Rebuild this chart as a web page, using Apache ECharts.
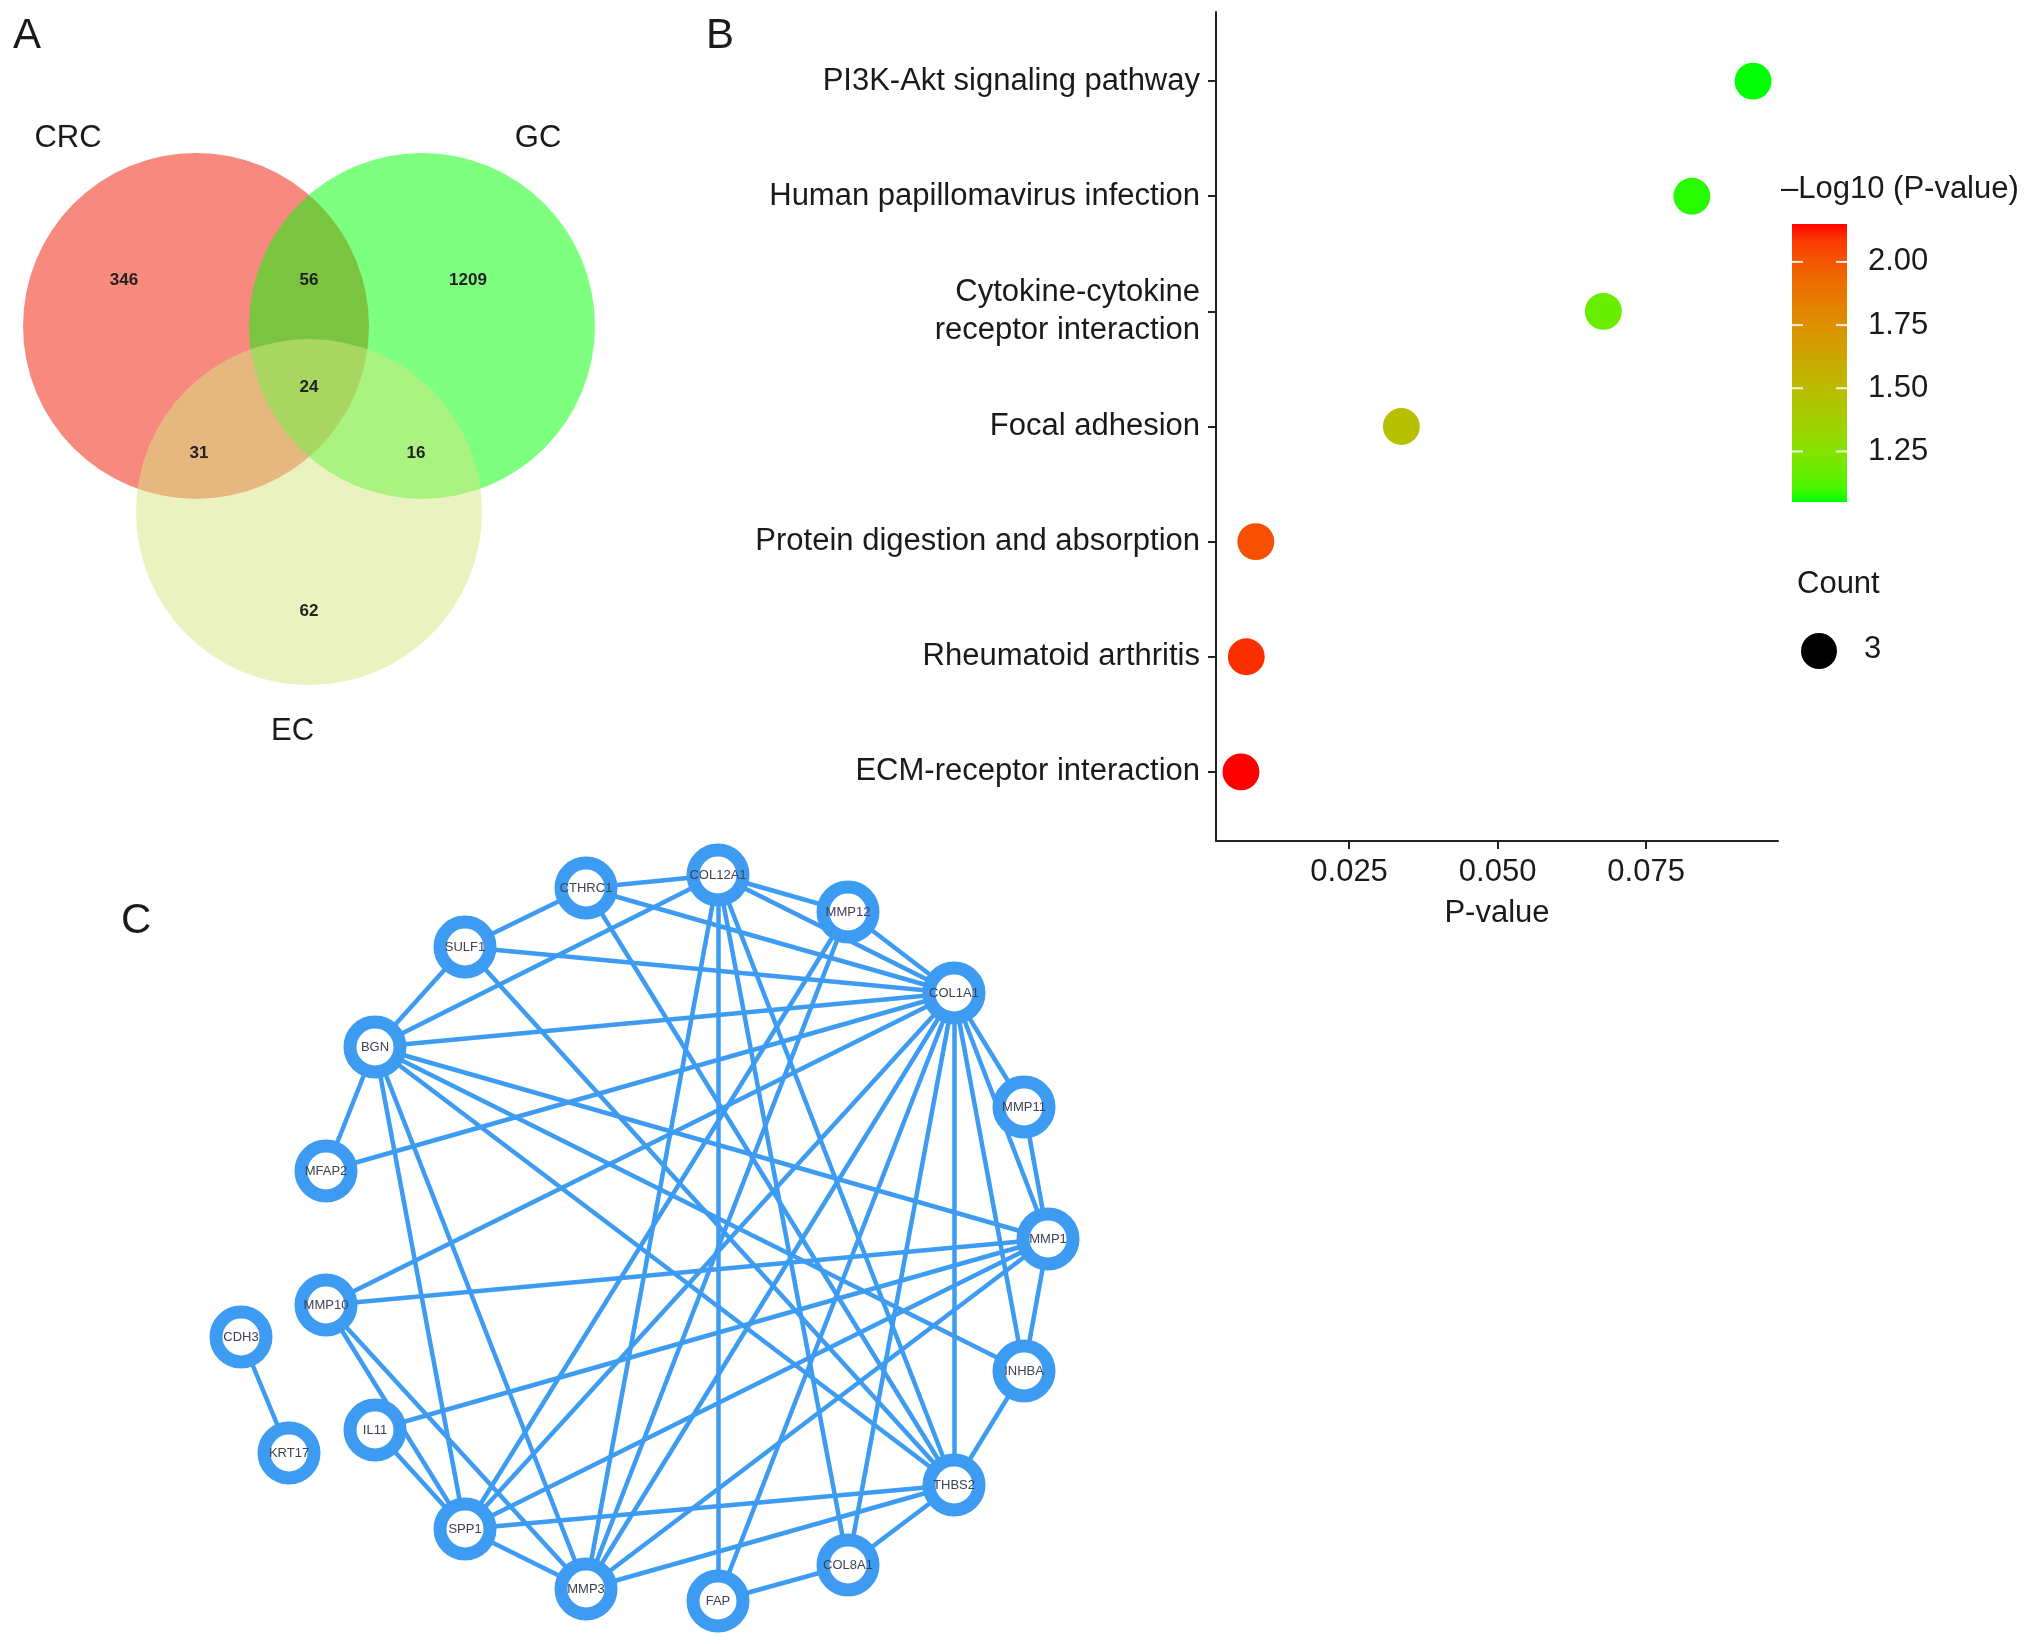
<!DOCTYPE html>
<html>
<head>
<meta charset="utf-8">
<script src="https://cdn.jsdelivr.net/npm/echarts@6/dist/echarts.min.js"></script>
<style>
html,body{margin:0;padding:0;background:#fff;}
#chart{width:2032px;height:1644px;}
</style>
</head>
<body>
<div id="chart"></div>
<script>
// ---------------- Panel A: Venn ----------------
const vennSets = ['CRC', 'GC', 'EC'];
const vennCenterX = [-0.653, 0.653, 0];
const vennCenterY = [0.538, 0.538, -0.538];
const vennRadius = [1, 1, 1];
const vennLabelX = [-1.393, 1.324, -0.095];
const vennLabelY = [1.62, 1.62, -1.809];
const vennRegionCounts = [346, 56, 1209, 24, 31, 16, 62];
const vennRegionX = [-1.069, 0, 0.919, 0, -0.636, 0.618, 0];
const vennRegionY = [0.803, 0.803, 0.803, 0.182, -0.199, -0.199, -1.113];

// ---------------- Panel B: KEGG dot plot ----------------
const categories = ['PI3K-Akt signaling pathway', 'Human papillomavirus infection',
  'Cytokine-cytokine\nreceptor interaction', 'Focal adhesion',
  'Protein digestion and absorption', 'Rheumatoid arthritis', 'ECM-receptor interaction'];
const pValues = [0.0930, 0.0827, 0.0678, 0.0338, 0.0093, 0.0077, 0.0068];
const negLog10P = [1.05, 1.08, 1.17, 1.47, 2.02, 2.10, 2.15];
const geneCount = [3, 3, 3, 3, 3, 3, 3];
const xTicks = [0.025, 0.050, 0.075];
const colorbarTicks = [1.25, 1.50, 1.75, 2.00];
const colorbarRange = [1.05, 2.15];

// ---------------- Panel C: PPI network ----------------
const geneNames = ['CTHRC1','COL12A1','MMP12','SULF1','COL1A1','BGN','MMP11','MFAP2','MMP1','MMP10','CDH3','INHBA','IL11','KRT17','THBS2','SPP1','COL8A1','MMP3','FAP'];
const geneX = [345, 477, 607, 224, 713, 134, 783, 85, 807, 85, 0, 783, 134, 48, 713, 224, 607, 345, 477];
const geneY = [13, 0, 37, 72, 118, 172, 232, 296, 364, 430, 462, 496, 555, 578, 610, 654, 690, 714, 726];
const interactions = [
  ['CTHRC1','COL12A1'],['CTHRC1','SULF1'],['CTHRC1','COL1A1'],['CTHRC1','THBS2'],
  ['COL12A1','MMP12'],['COL12A1','COL1A1'],['COL12A1','BGN'],['COL12A1','MMP3'],['COL12A1','FAP'],['COL12A1','COL8A1'],['COL12A1','THBS2'],
  ['MMP12','COL1A1'],['MMP12','SPP1'],['MMP12','MMP3'],
  ['SULF1','BGN'],['SULF1','COL1A1'],['SULF1','THBS2'],
  ['BGN','COL1A1'],['BGN','MFAP2'],['BGN','MMP1'],['BGN','INHBA'],['BGN','THBS2'],['BGN','SPP1'],['BGN','MMP3'],
  ['MFAP2','COL1A1'],
  ['MMP10','COL1A1'],['MMP10','MMP1'],['MMP10','SPP1'],['MMP10','MMP3'],
  ['IL11','MMP1'],['IL11','SPP1'],
  ['CDH3','KRT17'],
  ['COL1A1','MMP11'],['COL1A1','MMP1'],['COL1A1','INHBA'],['COL1A1','THBS2'],['COL1A1','COL8A1'],['COL1A1','FAP'],['COL1A1','MMP3'],['COL1A1','SPP1'],
  ['MMP11','MMP1'],
  ['MMP1','INHBA'],['MMP1','SPP1'],['MMP1','MMP3'],
  ['INHBA','THBS2'],
  ['THBS2','SPP1'],['THBS2','MMP3'],['THBS2','COL8A1'],
  ['SPP1','MMP3'],
  ['FAP','COL8A1']
];

// ---------- colour helpers (ggplot-like Lab interpolation green -> red) ----------
function s2l(c){c/=255;return c<=0.04045?c/12.92:Math.pow((c+0.055)/1.055,2.4);}
function l2s(c){c=c<=0.0031308?12.92*c:1.055*Math.pow(c,1/2.4)-0.055;return Math.round(Math.max(0,Math.min(1,c))*255);}
function rgb2lab(rgb){
  const r=s2l(rgb[0]),g=s2l(rgb[1]),b=s2l(rgb[2]);
  let X=(0.4124*r+0.3576*g+0.1805*b)/0.95047,Y=0.2126*r+0.7152*g+0.0722*b,Z=(0.0193*r+0.1192*g+0.9505*b)/1.08883;
  const f=t=>t>0.008856?Math.cbrt(t):7.787*t+16/116;
  const fx=f(X),fy=f(Y),fz=f(Z);
  return [116*fy-16,500*(fx-fy),200*(fy-fz)];
}
function lab2rgb(lab){
  const fy=(lab[0]+16)/116,fx=fy+lab[1]/500,fz=fy-lab[2]/200;
  const fi=t=>{const t3=t*t*t;return t3>0.008856?t3:(t-16/116)/7.787;};
  const X=fi(fx)*0.95047,Y=fi(fy),Z=fi(fz)*1.08883;
  const r=3.2406*X-1.5372*Y-0.4986*Z,g=-0.9689*X+1.8758*Y+0.0415*Z,b=0.0557*X-0.2040*Y+1.0570*Z;
  return 'rgb('+l2s(r)+','+l2s(g)+','+l2s(b)+')';
}
const LOW=rgb2lab([0,255,0]), HIGH=rgb2lab([255,0,0]);
function gradColor(t){return lab2rgb([0,1,2].map(i=>LOW[i]+(HIGH[i]-LOW[i])*t));}
const rampColors=[];for(let i=0;i<=20;i++)rampColors.push(gradColor(i/20));

const FONT='"Liberation Sans", Arial, Helvetica, sans-serif';
const TXT='#1a1a1a';
const BLUE='#3d9cf2';
const vennFill=['rgba(240,20,0,0.5)','rgba(0,255,0,0.5)','rgba(213,231,129,0.5)'];

const geneIndex={};geneNames.forEach((g,i)=>geneIndex[g]=i);

const chart=echarts.init(document.getElementById('chart'),null,{renderer:'canvas'});

const option={
  animation:false,
  backgroundColor:'#fff',
  textStyle:{fontFamily:FONT},
  grid:[
    {left:0,top:0,width:618,height:838},                 // 0 venn
    {left:1216,top:12,width:562,height:829},              // 1 dot plot
    {left:1792,top:224,width:55,height:278},              // 2 colorbar
    {left:241,top:875,width:807,height:726}               // 3 network
  ],
  xAxis:[
    {gridIndex:0,type:'value',min:-1.786,max:1.786,show:false},
    {gridIndex:1,type:'value',min:0.0026,max:0.0972,
      axisLine:{show:true,onZero:false,lineStyle:{color:'#222',width:2}},
      axisTick:{show:true,length:8,lineStyle:{color:'#222',width:2},customValues:xTicks},
      axisLabel:{customValues:xTicks,formatter:v=>v.toFixed(3),fontSize:31,color:TXT,fontFamily:FONT,margin:16},
      splitLine:{show:false},
      name:'P-value',nameLocation:'middle',nameGap:57,
      nameTextStyle:{fontSize:31,color:TXT,fontFamily:FONT}},
    {gridIndex:2,type:'value',min:0,max:1,show:false},
    {gridIndex:3,type:'value',min:0,max:807,show:false}
  ],
  yAxis:[
    {gridIndex:0,type:'value',min:-2.422,max:2.422,show:false},
    {gridIndex:1,type:'value',min:-0.6,max:6.6,
      axisLine:{show:true,onZero:false,lineStyle:{color:'#222',width:2}},
      axisTick:{show:true,length:8,lineStyle:{color:'#222',width:2},customValues:[0,1,2,3,4,5,6]},
      axisLabel:{customValues:[0,1,2,3,4,5,6],formatter:v=>categories[categories.length-1-Math.round(v)],
        fontSize:31,color:TXT,fontFamily:FONT,margin:16,lineHeight:38,align:'right'},
      splitLine:{show:false}},
    {gridIndex:2,type:'value',min:colorbarRange[0],max:colorbarRange[1],position:'right',
      axisLine:{show:false},axisTick:{show:false},
      axisLabel:{customValues:colorbarTicks,formatter:v=>v.toFixed(2),fontSize:31,color:TXT,fontFamily:FONT,margin:21},
      splitLine:{show:false}},
    {gridIndex:3,type:'value',min:0,max:726,inverse:true,show:false}
  ],
  visualMap:[{
    type:'continuous',show:false,seriesIndex:2,dimension:2,
    min:colorbarRange[0],max:colorbarRange[1],inRange:{color:rampColors}
  }],
  series:[
    { // 0 venn circles
      type:'custom',xAxisIndex:0,yAxisIndex:0,silent:true,
      data:vennSets.map((s,i)=>[vennCenterX[i],vennCenterY[i],vennRadius[i]]),
      renderItem:(params,api)=>{
        const c=api.coord([api.value(0),api.value(1)]);
        const r=api.size([api.value(2),api.value(2)])[0];
        return {type:'circle',shape:{cx:c[0],cy:c[1],r:r},style:{fill:vennFill[params.dataIndex]}};
      }
    },
    { // 1 venn labels + counts
      type:'scatter',xAxisIndex:0,yAxisIndex:0,symbolSize:1,silent:true,z:5,
      itemStyle:{opacity:0},
      data:vennSets.map((s,i)=>({value:[vennLabelX[i],vennLabelY[i]],label:{formatter:s,fontSize:31,fontWeight:'normal',color:TXT}}))
        .concat(vennRegionCounts.map((c,i)=>({value:[vennRegionX[i],vennRegionY[i]],label:{formatter:String(c),fontSize:17,fontWeight:'bold',color:'#222'}}))),
      label:{show:true,position:'inside',fontFamily:FONT,opacity:1}
    },
    { // 2 dot plot
      type:'scatter',xAxisIndex:1,yAxisIndex:1,symbol:'circle',
      symbolSize:(v)=>12.3*v[3],
      itemStyle:{opacity:1},
      data:categories.map((c,i)=>[pValues[i],categories.length-1-i,negLog10P[i],geneCount[i]]),
      z:3
    },
    { // 3 colorbar with white tick marks
      type:'custom',xAxisIndex:2,yAxisIndex:2,silent:true,z:1,
      data:[[0,colorbarRange[0],1,colorbarRange[1]]],
      renderItem:(params,api)=>{
        const p0=api.coord([api.value(0),api.value(3)]);
        const p1=api.coord([api.value(2),api.value(1)]);
        const stops=rampColors.map((c,i)=>({offset:1-i/(rampColors.length-1),color:c})).reverse();
        const children=[{type:'rect',shape:{x:p0[0],y:p0[1],width:p1[0]-p0[0],height:p1[1]-p0[1]},
          style:{fill:new echarts.graphic.LinearGradient(0,0,0,1,stops)}}];
        colorbarTicks.forEach(t=>{
          const y=api.coord([0,t])[1];
          children.push({type:'line',shape:{x1:p0[0],y1:y,x2:p0[0]+11,y2:y},style:{stroke:'rgba(255,255,255,0.85)',lineWidth:2}});
          children.push({type:'line',shape:{x1:p1[0]-11,y1:y,x2:p1[0],y2:y},style:{stroke:'rgba(255,255,255,0.85)',lineWidth:2}});
        });
        return {type:'group',children:children};
      }
    },
    { // 4 network edges
      type:'lines',coordinateSystem:'cartesian2d',xAxisIndex:3,yAxisIndex:3,
      polyline:false,silent:true,clip:false,z:2,
      lineStyle:{color:BLUE,width:4.5,opacity:1,curveness:0},
      data:interactions.map(e=>({coords:[[geneX[geneIndex[e[0]]],geneY[geneIndex[e[0]]]],[geneX[geneIndex[e[1]]],geneY[geneIndex[e[1]]]]]}))
    },
    { // 5 network nodes
      type:'scatter',xAxisIndex:3,yAxisIndex:3,symbol:'circle',symbolSize:50,clip:false,z:4,silent:true,
      itemStyle:{color:'#fff',borderColor:BLUE,borderWidth:13,opacity:1},
      label:{show:true,position:'inside',formatter:p=>p.data.name,fontSize:13,color:'#3e4252',fontFamily:FONT},
      data:geneNames.map((g,i)=>({name:g,value:[geneX[i],geneY[i]]}))
    }
  ],
  graphic:[
    {type:'text',left:13,top:15,style:{text:'A',fontSize:42,fontFamily:FONT,fill:TXT}},
    {type:'text',left:706,top:15,style:{text:'B',fontSize:42,fontFamily:FONT,fill:TXT}},
    {type:'text',left:121,top:900,style:{text:'C',fontSize:42,fontFamily:FONT,fill:TXT}},
    {type:'text',left:1781,top:174,style:{text:'\u2013Log10 (P-value)',fontSize:31,fontFamily:FONT,fill:TXT}},
    {type:'text',left:1797,top:569,style:{text:'Count',fontSize:31,fontFamily:FONT,fill:TXT}},
    {type:'circle',shape:{cx:1819,cy:651,r:18},style:{fill:'#000'}},
    {type:'text',left:1864,top:634,style:{text:'3',fontSize:31,fontFamily:FONT,fill:TXT}}
  ]
};
chart.setOption(option);
</script>
</body>
</html>
